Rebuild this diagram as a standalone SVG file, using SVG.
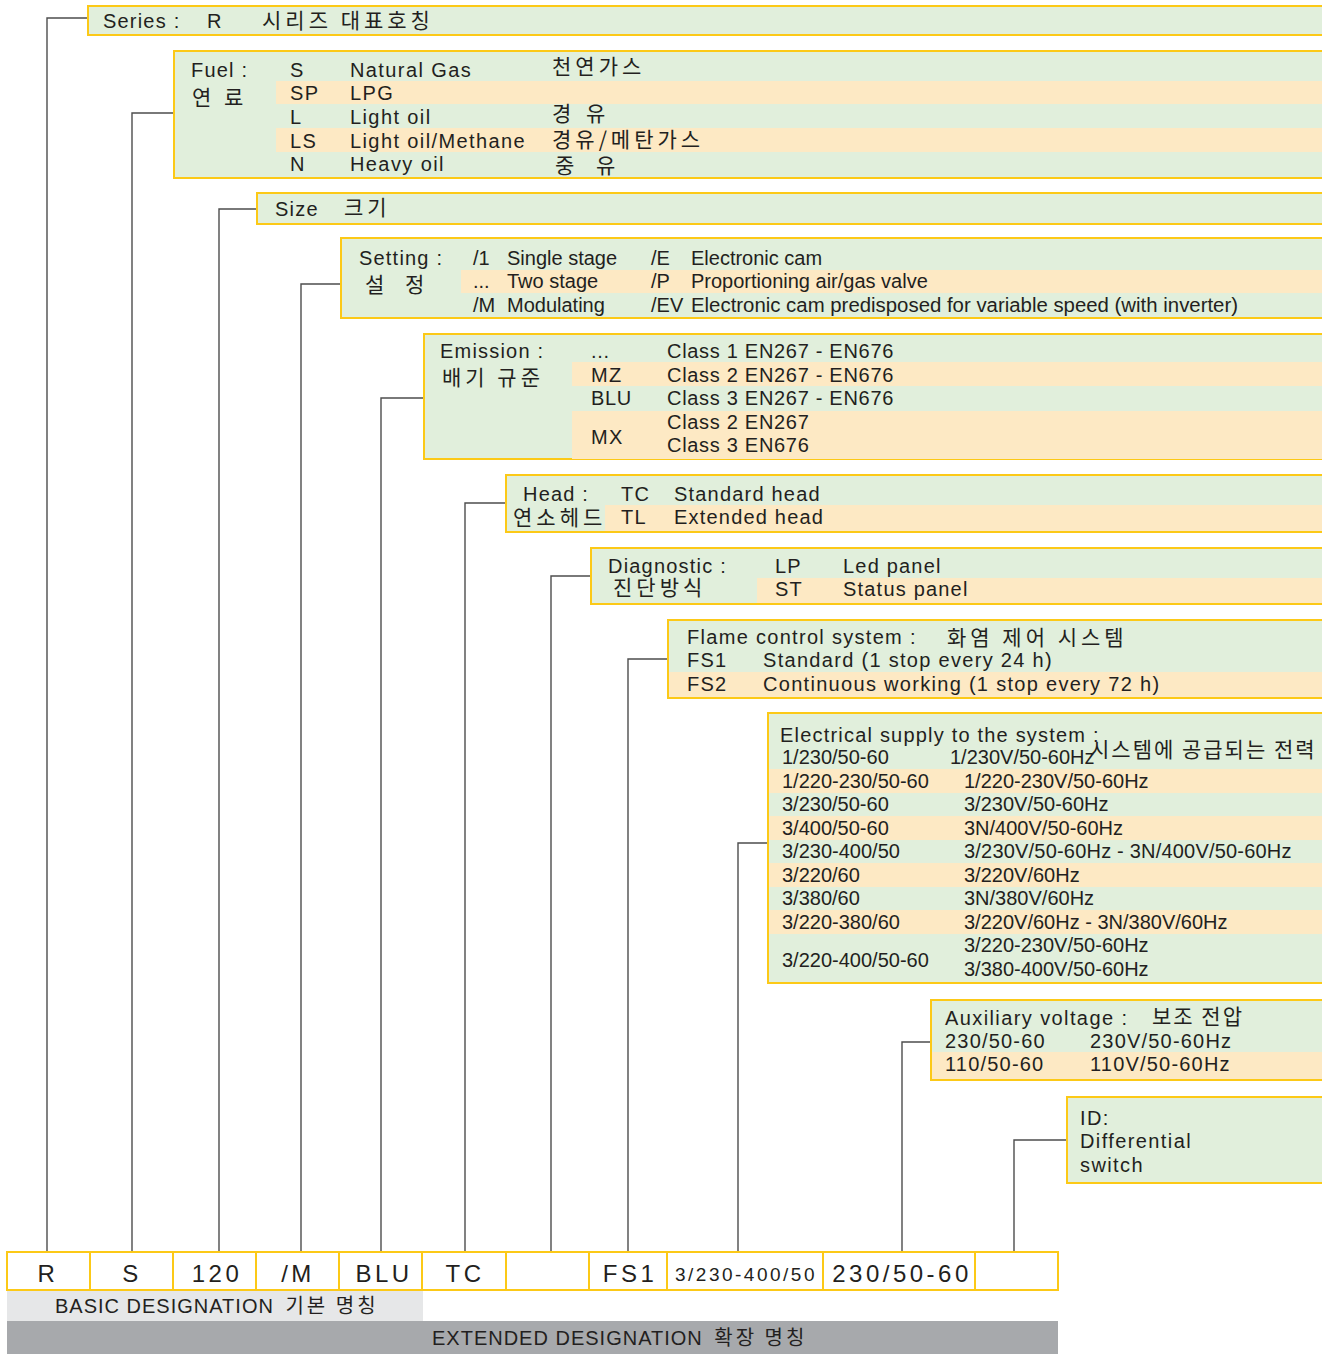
<svg xmlns="http://www.w3.org/2000/svg" width="1322" height="1354" viewBox="0 0 1322 1354">
<style>
.p{fill:#e1efdc;stroke:#fcc917;stroke-width:2}
.o{fill:#fde9c4}
.t{font-family:"Liberation Sans","Noto Sans CJK KR",sans-serif;font-size:20px;fill:#231f20}
.k{font-family:"Noto Sans CJK KR",sans-serif;font-size:21px;fill:#231f20;letter-spacing:4px}
.k2{letter-spacing:2px}
.ls{letter-spacing:1.2px}
.le{letter-spacing:0.7px}
.lf{letter-spacing:1.4px}
.c{fill:none;stroke:#4d4d4d;stroke-width:1.4}
.b{fill:#fff;stroke:#fcc917;stroke-width:2}
.bt{font-family:"Liberation Sans","Noto Sans CJK KR",sans-serif;font-size:24px;fill:#231f20;text-anchor:middle;letter-spacing:3.5px}
</style>
<rect width="1322" height="1354" fill="#fff"/>
<g id="connectors">
<polyline class="c" points="88,18 47,18 47,1251"/>
<polyline class="c" points="174,113 132,113 132,1251"/>
<polyline class="c" points="257,209 219,209 219,1251"/>
<polyline class="c" points="341,284 301,284 301,1251"/>
<polyline class="c" points="424,398 381,398 381,1251"/>
<polyline class="c" points="506,503 465,503 465,1251"/>
<polyline class="c" points="591,576 551,576 551,1251"/>
<polyline class="c" points="668,659 628,659 628,1251"/>
<polyline class="c" points="768,843 738,843 738,1251"/>
<polyline class="c" points="931,1042 902,1042 902,1251"/>
<polyline class="c" points="1067,1140 1014,1140 1014,1251"/>
</g>
<g id="series">
<rect class="p" x="88" y="6" width="1245" height="29"/>
<text class="t ls" x="103" y="28">Series :</text>
<text class="t" x="207" y="28">R</text>
<text class="k" x="262" y="28">시리즈 대표호칭</text>
</g>
<g id="fuel">
<rect class="p" x="174" y="51" width="1160" height="127"/>
<rect class="o" x="276" y="81" width="1046" height="23"/>
<rect class="o" x="276" y="128" width="1046" height="24"/>
<text class="t ls" x="191" y="77">Fuel :</text>
<text class="k" x="192" y="105">연</text><text class="k" x="224" y="105">료</text>
<text class="t lf" x="290" y="77">S</text><text class="t lf" x="350" y="77">Natural Gas</text><text class="k" x="552" y="74">천연가스</text>
<text class="t lf" x="290" y="100">SP</text><text class="t lf" x="350" y="100">LPG</text>
<text class="t lf" x="290" y="124">L</text><text class="t lf" x="350" y="124">Light oil</text><text class="k" x="552" y="121">경</text><text class="k" x="586" y="121">유</text>
<text class="t lf" x="290" y="148">LS</text><text class="t lf" x="350" y="148">Light oil/Methane</text><text class="k" x="552" y="147">경유/메탄가스</text>
<text class="t lf" x="290" y="171">N</text><text class="t lf" x="350" y="171">Heavy oil</text><text class="k" x="555" y="173">중</text><text class="k" x="596" y="173">유</text>
</g>
<g id="size">
<rect class="p" x="257" y="193" width="1075" height="31"/>
<text class="t ls" x="275" y="216">Size</text>
<text class="k" x="344" y="215">크기</text>
</g>
<g id="setting">
<rect class="p" x="341" y="238" width="990" height="80"/>
<rect class="o" x="461" y="270" width="861" height="23"/>
<text class="t ls" x="359" y="265">Setting :</text>
<text class="k" x="365" y="292">설</text><text class="k" x="405" y="292">정</text>
<text class="t" x="473" y="265">/1</text><text class="t" x="507" y="265">Single stage</text><text class="t" x="651" y="265">/E</text><text class="t" x="691" y="265">Electronic cam</text>
<text class="t" x="473" y="288">...</text><text class="t" x="507" y="288">Two stage</text><text class="t" x="651" y="288">/P</text><text class="t" x="691" y="288">Proportioning air/gas valve</text>
<text class="t" x="473" y="312">/M</text><text class="t" x="507" y="312">Modulating</text><text class="t" x="651" y="312">/EV</text><text class="t" x="691" y="312" textLength="547" lengthAdjust="spacingAndGlyphs">Electronic cam predisposed for variable speed (with inverter)</text>
</g>
<g id="emission">
<rect class="p" x="424" y="334" width="910" height="125"/>
<rect class="o" x="572" y="362" width="750" height="24"/>
<rect class="o" x="572" y="411" width="750" height="48"/>
<text class="t ls" x="440" y="358">Emission :</text>
<text class="k" x="442" y="385">배기 규준</text>
<text class="t le" x="591" y="358">...</text><text class="t le" x="667" y="358">Class 1 EN267 - EN676</text>
<text class="t lf" x="591" y="382">MZ</text><text class="t le" x="667" y="382">Class 2 EN267 - EN676</text>
<text class="t le" x="591" y="405">BLU</text><text class="t le" x="667" y="405">Class 3 EN267 - EN676</text>
<text class="t lf" x="591" y="444">MX</text><text class="t le" x="667" y="429">Class 2 EN267</text><text class="t le" x="667" y="452">Class 3 EN676</text>
</g>
<g id="head">
<rect class="p" x="506" y="475" width="830" height="57"/>
<rect class="o" x="605" y="505" width="717" height="26"/>
<text class="t ls" x="523" y="501">Head :</text>
<text class="k" x="513" y="525">연소헤드</text>
<text class="t ls" x="621" y="501">TC</text><text class="t ls" x="674" y="501">Standard head</text>
<text class="t ls" x="621" y="524">TL</text><text class="t ls" x="674" y="524">Extended head</text>
</g>
<g id="diagnostic">
<rect class="p" x="591" y="548" width="745" height="56"/>
<rect class="o" x="757" y="578" width="565" height="25"/>
<text class="t ls" x="608" y="573">Diagnostic :</text>
<text class="k" x="613" y="595">진단방식</text>
<text class="t ls" x="775" y="573">LP</text><text class="t ls" x="843" y="573">Led panel</text>
<text class="t ls" x="775" y="596">ST</text><text class="t ls" x="843" y="596">Status panel</text>
</g>
<g id="flame">
<rect class="p" x="668" y="620" width="668" height="78"/>
<rect class="o" x="669" y="672" width="653" height="25"/>
<text class="t" x="687" y="644" style="letter-spacing:1.3px">Flame control system :</text>
<text class="k" x="947" y="645">화염 제어 시스템</text>
<text class="t ls" x="687" y="667">FS1</text><text class="t" x="763" y="667" style="letter-spacing:1.3px">Standard (1 stop every 24 h)</text>
<text class="t ls" x="687" y="691">FS2</text><text class="t" x="763" y="691" style="letter-spacing:1.3px">Continuous working (1 stop every 72 h)</text>
</g>
<g id="electrical">
<rect class="p" x="768" y="713" width="568" height="270"/>
<rect class="o" x="769" y="769" width="553" height="24"/>
<rect class="o" x="769" y="816" width="553" height="24"/>
<rect class="o" x="769" y="863" width="553" height="24"/>
<rect class="o" x="769" y="910" width="553" height="24"/>
<text class="t ls" x="780" y="742">Electrical supply to the system :</text>
<text class="k k2" x="1090" y="757">시스템에 공급되는 전력</text>
<text class="t" x="782" y="764">1/230/50-60</text><text class="t" x="950" y="764">1/230V/50-60Hz</text>
<text class="t" x="782" y="788">1/220-230/50-60</text><text class="t" x="964" y="788">1/220-230V/50-60Hz</text>
<text class="t" x="782" y="811">3/230/50-60</text><text class="t" x="964" y="811">3/230V/50-60Hz</text>
<text class="t" x="782" y="835">3/400/50-60</text><text class="t" x="964" y="835">3N/400V/50-60Hz</text>
<text class="t" x="782" y="858">3/230-400/50</text><text class="t" x="964" y="858" style="letter-spacing:0.2px">3/230V/50-60Hz - 3N/400V/50-60Hz</text>
<text class="t" x="782" y="882">3/220/60</text><text class="t" x="964" y="882">3/220V/60Hz</text>
<text class="t" x="782" y="905">3/380/60</text><text class="t" x="964" y="905">3N/380V/60Hz</text>
<text class="t" x="782" y="929">3/220-380/60</text><text class="t" x="964" y="929">3/220V/60Hz - 3N/380V/60Hz</text>
<text class="t" x="782" y="967">3/220-400/50-60</text><text class="t" x="964" y="952">3/220-230V/50-60Hz</text><text class="t" x="964" y="976">3/380-400V/50-60Hz</text>
</g>
<g id="auxiliary">
<rect class="p" x="931" y="1000" width="405" height="80"/>
<rect class="o" x="932" y="1052" width="390" height="27"/>
<text class="t lf" x="945" y="1025">Auxiliary voltage :</text>
<text class="k k2" x="1152" y="1024">보조 전압</text>
<text class="t ls" x="945" y="1048">230/50-60</text><text class="t ls" x="1090" y="1048">230V/50-60Hz</text>
<text class="t ls" x="945" y="1071">110/50-60</text><text class="t ls" x="1090" y="1071">110V/50-60Hz</text>
</g>
<g id="id">
<rect class="p" x="1067" y="1097" width="270" height="86"/>
<text class="t lf" x="1080" y="1125">ID:</text>
<text class="t lf" x="1080" y="1148">Differential</text>
<text class="t lf" x="1080" y="1172">switch</text>
</g>
<g id="designation">
<rect class="b" x="7" y="1252" width="83" height="38"/>
<rect class="b" x="90" y="1252" width="83" height="38"/>
<rect class="b" x="173" y="1252" width="83" height="38"/>
<rect class="b" x="256" y="1252" width="83" height="38"/>
<rect class="b" x="339" y="1252" width="83" height="38"/>
<rect class="b" x="422" y="1252" width="84" height="38"/>
<rect class="b" x="506" y="1252" width="83" height="38"/>
<rect class="b" x="589" y="1252" width="78" height="38"/>
<rect class="b" x="667" y="1252" width="156" height="38"/>
<rect class="b" x="823" y="1252" width="152" height="38"/>
<rect class="b" x="975" y="1252" width="83" height="38"/>
<text class="bt" x="48" y="1282">R</text>
<text class="bt" x="132" y="1282">S</text>
<text class="bt" x="217" y="1282">120</text>
<text class="bt" x="298" y="1282">/M</text>
<text class="bt" x="384" y="1282">BLU</text>
<text class="bt" x="465" y="1282">TC</text>
<text class="bt" x="630" y="1282">FS1</text>
<text class="bt" x="746" y="1281" style="font-size:19px;letter-spacing:2.5px">3/230-400/50</text>
<text class="bt" x="902" y="1282">230/50-60</text>
</g>
<g id="bands">
<rect x="7" y="1291" width="416" height="30" fill="#e6e7e8"/>
<rect x="7" y="1321" width="1051" height="33" fill="#a7a9ac"/>
<text class="t" x="55" y="1313" style="letter-spacing:1px">BASIC DESIGNATION <tspan class="k" dx="5" style="font-size:20px;letter-spacing:3px">기본 명칭</tspan></text>
<text class="t" x="432" y="1345" style="letter-spacing:1px">EXTENDED DESIGNATION <tspan class="k" dx="5" style="font-size:20px;letter-spacing:3px">확장 명칭</tspan></text>
</g>
</svg>
